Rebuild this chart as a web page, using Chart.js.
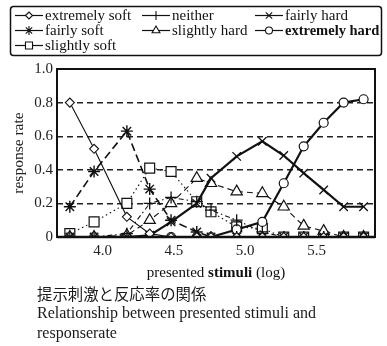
<!DOCTYPE html>
<html>
<head>
<meta charset="utf-8">
<script src="https://cdn.jsdelivr.net/npm/chart.js@4/dist/chart.umd.min.js"></script>
<style>
  html, body { margin: 0; padding: 0; background: #fff; }
  #wrap { position: relative; width: 387px; height: 346px; overflow: hidden; background: #fff; }
  #c { position: absolute; left: 0; top: 0; }
  .cap { position: absolute; left: 37px; white-space: nowrap; color: #1a1a1a; }
  #capJa { top: 283px; font-family: "Noto Sans CJK JP", sans-serif; font-size: 15.4px; font-weight: 400; line-height: 20px; }
  #capEn1 { top: 303px; font-family: "Liberation Serif", "Times New Roman", serif; font-size: 16px; line-height: 20px; }
  #capEn2 { top: 323px; font-family: "Liberation Serif", "Times New Roman", serif; font-size: 16px; line-height: 20px; }
</style>
</head>
<body>
<div id="wrap">
  <canvas id="c" width="387" height="285"></canvas>
  <div class="cap" id="capJa">提示刺激と反応率の関係</div>
  <div class="cap" id="capEn1">Relationship between presented stimuli and</div>
  <div class="cap" id="capEn2">responserate</div>
</div>
<script>
// ---- data ----
const stimuli       = [3.77, 3.94, 4.17, 4.33, 4.48, 4.66, 4.76, 4.94, 5.12, 5.27, 5.41, 5.55, 5.69, 5.83];
const extremelySoft = [0.80, 0.525, 0.12, 0.02, 0, 0, 0, 0, 0, 0, 0, 0, 0, 0];
const fairlySoft    = [0.18, 0.39, 0.63, 0.285, 0.10, 0.03, 0, 0, 0, 0, 0, 0, 0, 0];
const slightlySoft  = [0.02, 0.09, 0.20, 0.41, 0.39, 0.21, 0.15, 0.06, 0.05, 0, 0, 0, 0, 0];
const neither       = [0, 0, 0.02, 0.20, 0.235, 0.21, 0.16, 0.10, 0.03, 0, 0, 0, 0, 0];
const slightlyHard  = [0, 0, 0.01, 0.10, 0.20, 0.35, 0.32, 0.27, 0.26, 0.18, 0.066, 0.035, 0, 0];
const fairlyHard    = [0, 0, 0, 0.01, 0.09, 0.20, 0.35, 0.48, 0.57, 0.485, 0.38, 0.28, 0.18, 0.18];
const extremelyHard = [0, 0, 0, 0, 0, 0, 0, 0.045, 0.09, 0.32, 0.54, 0.68, 0.80, 0.82];
const xTicks = [4.0, 4.5, 5.0, 5.5];
const yTicks = [0, 0.2, 0.4, 0.6, 0.8, 1.0];
const seriesNames = ['extremely soft', 'neither', 'fairly hard', 'fairly soft', 'slightly hard', 'extremely hard', 'slightly soft'];

const SERIF = '"Liberation Serif", "Times New Roman", serif';
const pts = arr => arr.map((v, i) => ({ x: stimuli[i], y: v }));

function ds(label, values, style, radius, lineWidth, dash, bw) {
  return {
    label, data: pts(values),
    borderColor: '#111', backgroundColor: '#fff',
    borderWidth: lineWidth, borderDash: dash,
    pointStyle: style, pointRadius: radius, pointHoverRadius: radius,
    pointBorderColor: '#111', pointBackgroundColor: '#fff',
    pointBorderWidth: bw, tension: 0, fill: false
  };
}

const datasets = [
  ds(seriesNames[0], extremelySoft, 'rectRot', 4.5, 1.1, [], 1.1),
  ds(seriesNames[1], neither, 'cross', 6, 1.1, [5, 3, 1.5, 3], 1.3),
  ds(seriesNames[2], fairlyHard, 'crossRot', 6, 2.2, [], 1.3),
  ds(seriesNames[3], fairlySoft, 'star', 6, 1.6, [8, 4], 1.4),
  ds(seriesNames[4], slightlyHard, 'triangle', 6.5, 1.1, [6, 4], 1.2),
  ds(seriesNames[5], extremelyHard, 'circle', 4.5, 2.2, [], 1.2),
  ds(seriesNames[6], slightlySoft, 'rect', 7, 1.1, [1.5, 3], 1.2)
];

// legend layout (column x of line start, row y)
const legendPos = [[15, 15.5], [142, 15.5], [255, 15.5], [15, 30.5], [142, 30.5], [255, 30.5], [15, 45.5]];
const legendBold = [false, false, false, false, false, true, false];

function drawMarker(ctx, style, r, x, y, bw) {
  if (Chart.helpers && Chart.helpers.drawPoint) {
    ctx.fillStyle = '#fff'; ctx.strokeStyle = '#111'; ctx.lineWidth = bw;
    Chart.helpers.drawPoint(ctx, { pointStyle: style, radius: r, rotation: 0, borderWidth: bw }, x, y);
  }
}

const overlay = {
  id: 'overlay',
  afterDraw(chart) {
    const ctx = chart.ctx;
    const a = chart.chartArea;
    ctx.save();
    // plot frame
    ctx.setLineDash([]);
    ctx.strokeStyle = '#111';
    ctx.lineWidth = 2;
    ctx.strokeRect(a.left, a.top, a.right - a.left, a.bottom - a.top);
    ctx.lineWidth = 2.5;
    ctx.beginPath(); ctx.moveTo(a.left, a.bottom); ctx.lineTo(a.right, a.bottom); ctx.stroke();

    // legend box
    ctx.lineWidth = 1.5;
    ctx.beginPath();
    if (ctx.roundRect) ctx.roundRect(10.5, 6.5, 371, 49, 3); else ctx.rect(10.5, 6.5, 371, 49);
    ctx.stroke();
    chart.data.datasets.forEach((d, i) => {
      const [lx, ly] = legendPos[i];
      ctx.setLineDash([]);
      ctx.strokeStyle = '#111';
      ctx.lineWidth = 1.2;
      ctx.beginPath(); ctx.moveTo(lx, ly); ctx.lineTo(lx + 28, ly); ctx.stroke();
      const r = d.pointStyle === 'rect' ? 5 : (d.pointStyle === 'rectRot' || d.pointStyle === 'circle' ? 3.5 : 4.5);
      drawMarker(ctx, d.pointStyle, r, lx + 14, ly, 1.1);
      ctx.fillStyle = '#111';
      ctx.font = (legendBold[i] ? 'bold 14.5px ' : '15px ') + SERIF;
      ctx.textBaseline = 'middle';
      ctx.textAlign = 'left';
      ctx.fillText(d.label, lx + 30, ly + 0.5);
    });

    // x axis title with mixed weight
    const parts = [['presented ', ''], ['stimuli', 'bold '], [' (log)', '']];
    let total = 0;
    parts.forEach(p => { ctx.font = p[1] + '15px ' + SERIF; total += ctx.measureText(p[0]).width; });
    let x = (a.left + a.right) / 2 - total / 2;
    const y = 273;
    ctx.fillStyle = '#111';
    ctx.textBaseline = 'middle';
    parts.forEach(p => {
      ctx.font = p[1] + '15px ' + SERIF;
      ctx.fillText(p[0], x, y);
      x += ctx.measureText(p[0]).width;
    });
    ctx.restore();
  }
};

new Chart(document.getElementById('c'), {
  type: 'line',
  data: { datasets },
  plugins: [overlay],
  options: {
    responsive: false,
    animation: false,
    layout: { padding: { top: 69, right: 12, left: 0, bottom: 0 } },
    plugins: { legend: { display: false }, tooltip: { enabled: false } },
    scales: {
      x: {
        type: 'linear', min: 3.68, max: 5.91,
        afterBuildTicks: s => { s.ticks = xTicks.map(v => ({ value: v })); },
        afterFit: s => { s.height = 48; },
        grid: { display: false, drawTicks: false },
        border: { display: false },
        ticks: { padding: 5, color: '#222', font: { family: SERIF, size: 15 }, callback: v => v.toFixed(1) }
      },
      y: {
        min: 0, max: 1.0,
        afterBuildTicks: s => { s.ticks = yTicks.map(v => ({ value: v })); },
        afterFit: s => { s.width = 57; },
        grid: {
          drawTicks: false,
          lineWidth: 1.4,
          color: c => (c.tick && (c.tick.value === 0 || c.tick.value === 1)) ? 'rgba(0,0,0,0)' : '#222'
        },
        border: { display: false, dash: [6, 4] },
        ticks: { padding: 4, color: '#222', font: { family: SERIF, size: 15 }, callback: v => v === 0 ? '0' : v.toFixed(1) },
        title: { display: true, text: 'response rate', color: '#222', font: { family: SERIF, size: 15.5 }, padding: { top: 10, bottom: 0 } }
      }
    }
  }
});
</script>
</body>
</html>
